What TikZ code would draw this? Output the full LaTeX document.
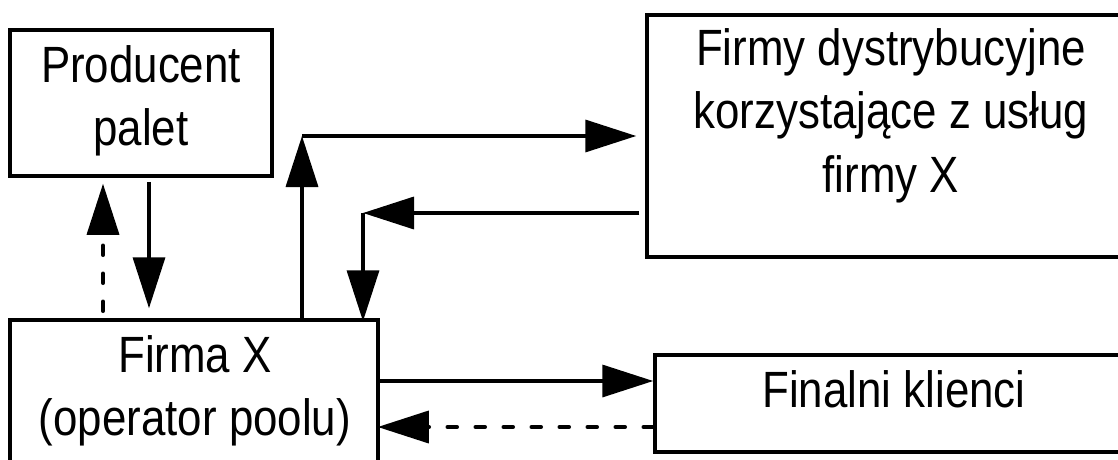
\documentclass[tikz,border=0pt]{standalone}
\usepackage{fontspec}
\setmainfont{Liberation Sans}[FakeStretch=0.86]
\usetikzlibrary{arrows.meta}
\begin{document}
\begin{tikzpicture}[x=1pt,y=-1pt,
  box/.style={draw, line width=3.5pt, inner sep=0pt},
  lbl/.style={font=\fontsize{51}{63.5}\selectfont, align=center, inner sep=0pt, anchor=north},
  arr/.style={line width=3.5pt, -{Triangle[length=51pt,width=32pt]}},
  dsh/.style={arr, line cap=round, dash pattern=on 10pt off 18pt}]
\useasboundingbox (0,0) rectangle (1118,460);
% boxes
\node[box, minimum width=262pt, minimum height=146pt] (prod) at (141,103) {};
\node[box, minimum width=486pt, minimum height=242pt] (dist) at (890,136) {};
\node[box, minimum width=368pt, minimum height=160pt] (firma) at (194,400) {};
\node[box, minimum width=478pt, minimum height=97pt] (final) at (894,403.5) {};
% labels
\node[lbl] (tprod) at (141,45) {Producent\\palet};
\node[lbl] (tdist) at (891,28) {Firmy dystrybucyjne\\korzystające z usług\\firmy X};
\node[lbl] (tfirma) at (195,335) {Firma X\\(operator poolu)};
\node[lbl] (tfinal) at (894,370) {Finalni klienci};
% helper coordinates
\coordinate (xa) at (103,0);
\coordinate (xb) at (149,0);
\coordinate (c1) at (302,136);
\coordinate (c2) at (363,213);
\coordinate (y1) at (0,381);
\coordinate (y2) at (0,427);
% connectors
\draw[dsh, shorten <=7pt, shorten >=6pt] (firma.north -| xa) -- (prod.south -| xa);
\draw[arr, shorten <=4pt, shorten >=10pt] (prod.south -| xb) -- (firma.north -| xb);
\draw[arr] (firma.north -| c1) -- (c1);
\draw[arr, shorten >=9pt] (c1) -- (dist.west |- c1);
\draw[arr, shorten <=6pt] (dist.west |- c2) -- (c2);
\draw[arr, shorten >=-3pt] (c2) -- (firma.north -| c2);
\draw[arr] (firma.east |- y1) -- (final.west |- y1);
\draw[dsh, shorten >=-2pt] (final.west |- y2) -- (firma.east |- y2);
\end{tikzpicture}
\end{document}
